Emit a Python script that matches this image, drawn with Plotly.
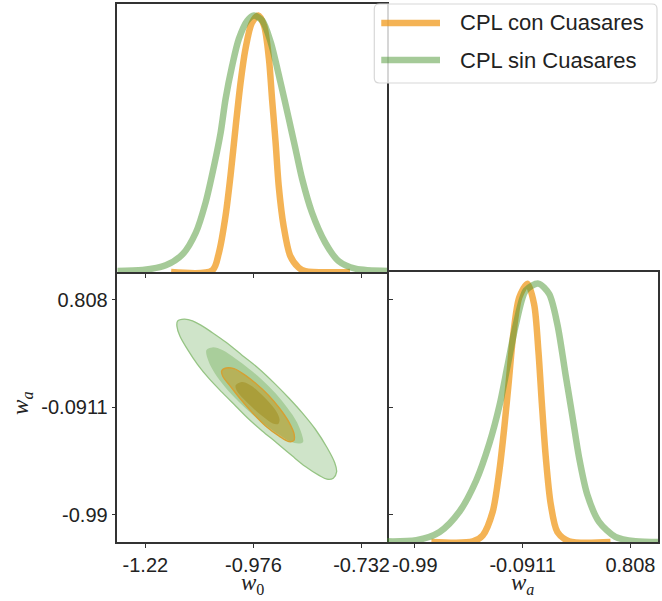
import plotly.graph_objects as go

W, H = 662, 601

# ---------------- data ----------------
labels = ["CPL con Cuasares", "CPL sin Cuasares"]
w0_ticks = [-1.22, -0.976, -0.732]
w0_ticktext = ["-1.22", "-0.976", "-0.732"]
wa_ticks = [-0.99, -0.0911, 0.808]
wa_ticktext = ["-0.99", "-0.0911", "0.808"]
w0_range = [-1.283, -0.674]
wa_range = [-1.22, 1.038]
p_range = [0, 1.045]

# 1D marginal of w0
w0_con_x = [-1.162, -1.069, -1.054, -1.039, -1.027, -1.016, -1.005, -0.994, -0.980, -0.965,
            -0.952, -0.941, -0.934, -0.926, -0.919, -0.908, -0.893, -0.874, -0.859, -0.758]
w0_con_p = [0.0, 0.006, 0.075, 0.219, 0.388, 0.57, 0.74, 0.87, 0.97, 1.0,
            0.96, 0.83, 0.674, 0.505, 0.336, 0.18, 0.063, 0.017, 0.003, 0.0]
w0_sin_x = [-1.30, -1.226, -1.174, -1.136, -1.106, -1.084, -1.065, -1.050, -1.039, -1.024, -1.009,
            -0.990, -0.975, -0.956, -0.937, -0.915, -0.896, -0.881, -0.866, -0.844, -0.814,
            -0.784, -0.746, -0.66]
w0_sin_p = [0.004, 0.008, 0.026, 0.069, 0.154, 0.271, 0.414, 0.544, 0.674, 0.805, 0.909,
            0.980, 1.0, 0.98, 0.896, 0.74, 0.596, 0.479, 0.362, 0.232, 0.115,
            0.043, 0.013, 0.004]

# 1D marginal of wa
wa_con_x = [-0.852, -0.506, -0.423, -0.340, -0.285, -0.243, -0.207, -0.169, -0.119, -0.050,
            0.005, 0.041, 0.069, 0.102, 0.144, 0.199, 0.296, 0.642]
wa_con_p = [0.0, 0.002, 0.026, 0.118, 0.276, 0.447, 0.618, 0.803, 0.947, 1.0,
            0.92, 0.737, 0.539, 0.329, 0.145, 0.039, 0.003, 0.0]
wa_sin_x = [-1.30, -0.977, -0.783, -0.617, -0.479, -0.368, -0.285, -0.216, -0.147, -0.064,
            0.041, 0.130, 0.199, 0.268, 0.324, 0.379, 0.448, 0.545, 0.683, 0.849, 1.10]
wa_sin_p = [0.003, 0.007, 0.039, 0.118, 0.237, 0.382, 0.526, 0.684, 0.842, 0.974,
            1.0, 0.96, 0.842, 0.645, 0.487, 0.329, 0.184, 0.079, 0.02, 0.003, 0.0]

# 2D contours (w0, wa)
sin95_w0 = [-1.1473, -1.1324, -1.1136, -1.0911, -1.0686, -1.0387, -1.0012, -0.9637, -0.9262, -0.8962,
            -0.8663, -0.8363, -0.8100, -0.7928, -0.7883, -0.7958, -0.8100, -0.8288, -0.8588, -0.8887,
            -0.9225, -0.9562, -0.9862, -1.0162, -1.0461, -1.0761, -1.1024, -1.1249, -1.1421, -1.1488]
sin95_wa = [0.6272, 0.6439, 0.6300, 0.5855, 0.5298, 0.4519, 0.3406, 0.2293, 0.0985, -0.0155,
            -0.1380, -0.2771, -0.4301, -0.5553, -0.6332, -0.6861, -0.6944, -0.6610, -0.5887, -0.4997,
            -0.3939, -0.2910, -0.1936, -0.0823, 0.0290, 0.1458, 0.2655, 0.3907, 0.5020, 0.5855]
sin68_w0 = [-1.0821, -1.0686, -1.0461, -1.0162, -0.9862, -0.9562, -0.9262, -0.9000, -0.8775, -0.8648,
            -0.8640, -0.8737, -0.8925, -0.9187, -0.9487, -0.9787, -1.0087, -1.0387, -1.0626, -1.0776]
sin68_wa = [0.3851, 0.4074, 0.3851, 0.3128, 0.2293, 0.1347, 0.0234, -0.0962, -0.2214, -0.3466,
            -0.3828, -0.3967, -0.3800, -0.3216, -0.2409, -0.1519, -0.0489, 0.0707, 0.1876, 0.2933]
con95_w0 = [-1.0477, -1.0372, -1.0199, -0.9974, -0.9712, -0.9427, -0.9172, -0.8962, -0.8842, -0.8850,
            -0.8962, -0.9187, -0.9487, -0.9787, -1.0049, -1.0297, -1.0447]
con95_wa = [0.2098, 0.2349, 0.2293, 0.1820, 0.1069, 0.0095, -0.1018, -0.2159, -0.3188, -0.3717,
            -0.3800, -0.3327, -0.2493, -0.1380, -0.0267, 0.0902, 0.1625]
con68_w0 = [-1.0162, -1.0027, -0.9847, -0.9637, -0.9427, -0.9247, -0.9172, -0.9202, -0.9322, -0.9547,
            -0.9772, -0.9997, -1.0132]
con68_wa = [0.0902, 0.1180, 0.0958, 0.0345, -0.0434, -0.1268, -0.1936, -0.2326, -0.2298, -0.1714,
            -0.0990, -0.0183, 0.0429]

# ---------------- styling ----------------
ORANGE_LINE = "rgba(240,150,20,0.72)"
GREEN_LINE = "rgba(75,150,50,0.5)"
LW = 6.5
TICKFONT = dict(family="Liberation Sans, Arial, sans-serif", size=20, color="#222")
AXC = "#333"

# panel boundaries in pixels
xL0, xL1, xR1 = 118, 389, 661
yT0, yM, yB = 4, 272, 542
def px(x): return x / W
def py(y): return 1 - y / H

fig = go.Figure()

def closed(a):
    return list(a) + [a[0]]

# 2D panel (xaxis2/yaxis2)
fig.add_trace(go.Scatter(x=closed(sin95_w0), y=closed(sin95_wa), mode="lines", fill="toself",
                         fillcolor="#CFE4C9", line=dict(color="rgb(150,196,132)", width=1.3, shape="spline"),
                         xaxis="x2", yaxis="y2", showlegend=False, hoverinfo="skip"))
fig.add_trace(go.Scatter(x=closed(sin68_w0), y=closed(sin68_wa), mode="lines", fill="toself",
                         fillcolor="#A9CE9B", line=dict(color="rgba(0,0,0,0)", width=0, shape="spline"),
                         xaxis="x2", yaxis="y2", showlegend=False, hoverinfo="skip"))
fig.add_trace(go.Scatter(x=closed(con95_w0), y=closed(con95_wa), mode="lines", fill="toself",
                         fillcolor="rgba(200,140,0,0.42)", line=dict(color="rgb(214,160,50)", width=1.4, shape="spline"),
                         xaxis="x2", yaxis="y2", showlegend=False, hoverinfo="skip"))
fig.add_trace(go.Scatter(x=closed(con68_w0), y=closed(con68_wa), mode="lines", fill="toself",
                         fillcolor="rgba(150,120,0,0.35)", line=dict(color="rgba(0,0,0,0)", width=0, shape="spline"),
                         xaxis="x2", yaxis="y2", showlegend=False, hoverinfo="skip"))

# 1D w0 (xaxis/yaxis)
fig.add_trace(go.Scatter(x=w0_con_x, y=w0_con_p, mode="lines",
                         line=dict(color=ORANGE_LINE, width=LW, shape="spline", smoothing=0.8),
                         xaxis="x", yaxis="y", showlegend=False, name=labels[0]))
fig.add_trace(go.Scatter(x=w0_sin_x, y=w0_sin_p, mode="lines",
                         line=dict(color=GREEN_LINE, width=LW, shape="spline", smoothing=0.8),
                         xaxis="x", yaxis="y", showlegend=False, name=labels[1]))
# 1D wa (xaxis3/yaxis3)
fig.add_trace(go.Scatter(x=wa_con_x, y=wa_con_p, mode="lines",
                         line=dict(color=ORANGE_LINE, width=LW, shape="spline", smoothing=0.8),
                         xaxis="x3", yaxis="y3", showlegend=False, name=labels[0]))
fig.add_trace(go.Scatter(x=wa_sin_x, y=wa_sin_p, mode="lines",
                         line=dict(color=GREEN_LINE, width=LW, shape="spline", smoothing=0.8),
                         xaxis="x3", yaxis="y3", showlegend=False, name=labels[1]))

base = dict(showline=True, linecolor=AXC, linewidth=1.6, showgrid=False, zeroline=False,
            tickwidth=1.3, tickcolor=AXC, tickfont=TICKFONT)
tk = dict(ticks="outside", ticklen=4)

fig.update_layout(
    width=W, height=H, margin=dict(l=0, r=0, t=0, b=0),
    paper_bgcolor="white", plot_bgcolor="white",
    # top-left: w0 marginal (full box)
    xaxis=dict(domain=[px(xL0), px(xL1)], range=w0_range, anchor="y", tickvals=w0_ticks,
               showticklabels=False, mirror=True, **tk, **base),
    yaxis=dict(domain=[py(yM), py(yT0)], range=p_range, anchor="x", showticklabels=False,
               mirror=True, ticks="", **base),
    # bottom-left: 2D (no top line: shared with top-left; right line + mirrored ticks)
    xaxis2=dict(domain=[px(xL0), px(xL1)], range=w0_range, anchor="y2", tickvals=w0_ticks,
                ticktext=w0_ticktext, mirror=False, **tk, **base),
    yaxis2=dict(domain=[py(yB), py(yM)], range=wa_range, anchor="x2", tickvals=wa_ticks,
                ticktext=wa_ticktext, mirror="ticks", **tk, **base),
    # bottom-right: wa marginal (left line shared with bottom-left)
    xaxis3=dict(domain=[px(xL1), px(xR1)], range=wa_range, anchor="y3", tickvals=wa_ticks,
                ticktext=wa_ticktext, mirror=True, **tk, **base),
    yaxis3=dict(domain=[py(yB), py(yM)], range=p_range, anchor="x3", showticklabels=False,
                side="right", mirror=False, ticks="", **base),
)

# axis labels
LABFONT = dict(family="Liberation Serif, DejaVu Serif, serif", size=23, color="#222")
fig.add_annotation(text="<i>w</i><sub>0</sub>", x=px((xL0 + xL1) / 2), y=py(600), xref="paper", yref="paper",
                   showarrow=False, font=LABFONT, xanchor="center", yanchor="bottom")
fig.add_annotation(text="<i>w</i><sub><i>a</i></sub>", x=px((xL1 + xR1) / 2), y=py(600), xref="paper", yref="paper",
                   showarrow=False, font=LABFONT, xanchor="center", yanchor="bottom")
fig.add_annotation(text="<i>w</i><sub><i>a</i></sub>", x=px(22), y=py(403), xref="paper", yref="paper",
                   showarrow=False, font=LABFONT, textangle=-90, xanchor="center", yanchor="middle")

# legend (drawn manually to match the box)
lx0, ly0, lx1, ly1, r = 376, 4, 660, 83, 5
path = (f"M {px(lx0 + r)} {py(ly0)} L {px(lx1 - r)} {py(ly0)} Q {px(lx1)} {py(ly0)} {px(lx1)} {py(ly0 + r)} "
        f"L {px(lx1)} {py(ly1 - r)} Q {px(lx1)} {py(ly1)} {px(lx1 - r)} {py(ly1)} "
        f"L {px(lx0 + r)} {py(ly1)} Q {px(lx0)} {py(ly1)} {px(lx0)} {py(ly1 - r)} "
        f"L {px(lx0)} {py(ly0 + r)} Q {px(lx0)} {py(ly0)} {px(lx0 + r)} {py(ly0)} Z")
fig.add_shape(type="path", path=path, xref="paper", yref="paper",
              fillcolor="rgba(255,255,255,0.8)", line=dict(color="rgb(215,215,215)", width=1.2), layer="above")
legend_colors = [ORANGE_LINE, GREEN_LINE]
legend_y = [23, 60]
for lab, col, yy in zip(labels, legend_colors, legend_y):
    fig.add_shape(type="line", x0=px(383), x1=px(442), y0=py(yy), y1=py(yy), xref="paper", yref="paper",
                  line=dict(color=col, width=LW), layer="above")
    fig.add_annotation(text=lab, x=px(460), y=py(yy), xref="paper", yref="paper", showarrow=False,
                       xanchor="left", yanchor="middle",
                       font=dict(family="Liberation Sans, Arial, sans-serif", size=22, color="#222"))

fig.write_html("out.html", config={"displayModeBar": False},
               post_script="document.body.style.margin='0';document.body.style.overflow='hidden';")
